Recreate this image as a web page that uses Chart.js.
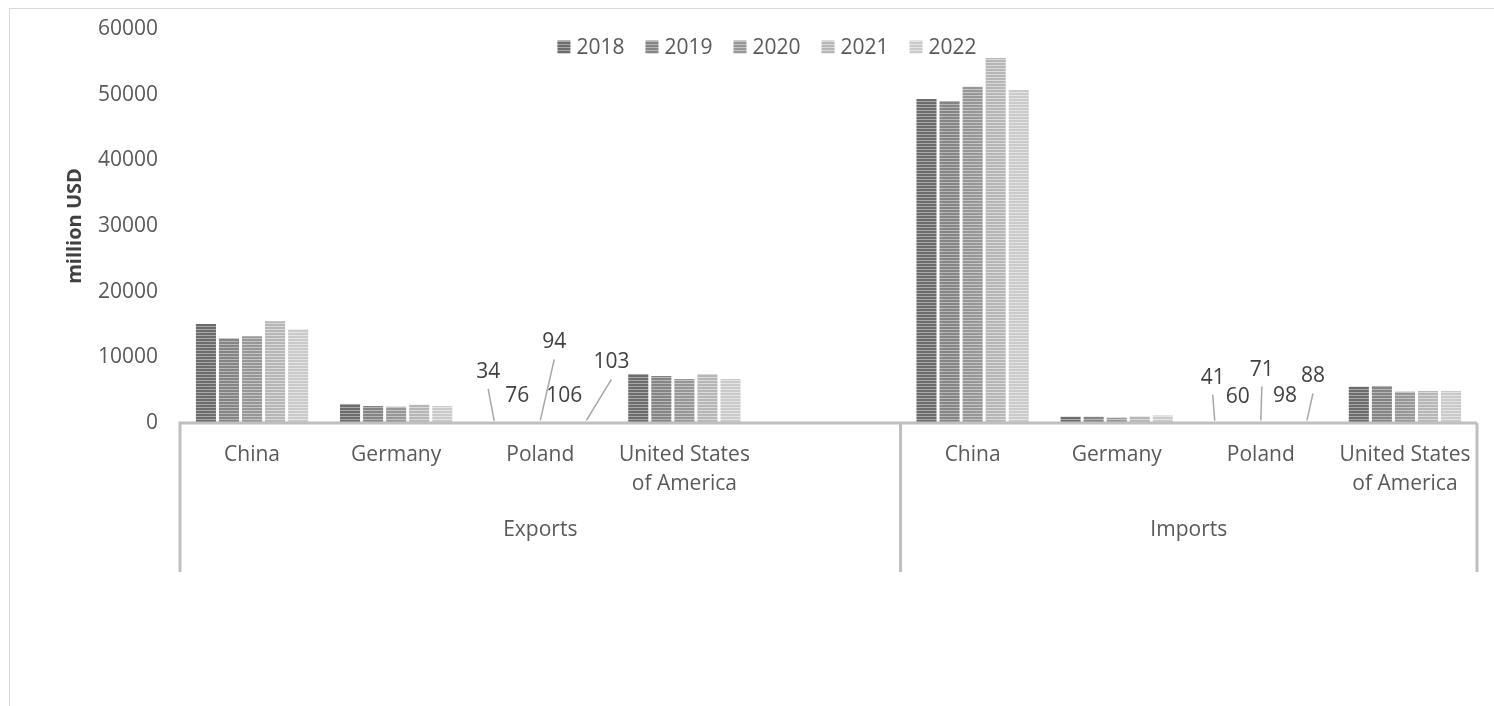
<!DOCTYPE html>
<html>
<head>
<meta charset="utf-8">
<script src="https://cdn.jsdelivr.net/npm/chart.js@4.4.1/dist/chart.umd.min.js"></script>
<style>
  html, body { margin: 0; padding: 0; background: #fff; }
  #frame { position: absolute; left: 9px; top: 8px; width: 1500px; height: 720px; border: 1px solid #d9d9d9; box-sizing: border-box; }
  #wrap { position: absolute; left: 0; top: 0; width: 1494px; height: 706px; }
</style>
</head>
<body>
<div id="frame"></div>
<div id="wrap"><canvas id="trade"></canvas></div>
<script>
// categories in two groups; the fifth export slot is left empty
const categories = [['China'], ['Germany'], ['Poland'], ['United States', 'of America'], [''],
                    ['China'], ['Germany'], ['Poland'], ['United States', 'of America']];
const groups = ['Exports', 'Imports'];
const groupSizes = [5, 4];
const years = ['2018', '2019', '2020', '2021', '2022'];

// million USD
const values2018 = [15090, 2900, 34, 7470, null, 49350, 960, 41, 5530];
const values2019 = [12910, 2590, 76, 7160, null, 49040, 960, 60, 5640];
const values2020 = [13210, 2480, 94, 6710, null, 51220, 810, 71, 4770];
const values2021 = [15500, 2790, 106, 7470, null, 55590, 1000, 98, 4880];
const values2022 = [14280, 2590, 103, 6710, null, 50720, 1150, 88, 4880];
const yTicks = [0, 10000, 20000, 30000, 40000, 50000, 60000];

const FONT = '"Open Sans", "DejaVu Sans", sans-serif';

// horizontal stripe fills, dark to light
const stripeColors = [
  ['#6c6c6c', '#a9a9a9'],
  ['#858585', '#b6b6b6'],
  ['#979797', '#c4c4c4'],
  ['#b6b6b6', '#d9d9d9'],
  ['#cacaca', '#e4e4e4']
];
function stripes(dark, light) {
  const c = document.createElement('canvas');
  c.width = 4; c.height = 3;
  const g = c.getContext('2d');
  g.fillStyle = light; g.fillRect(0, 0, 4, 3);
  g.fillStyle = dark; g.fillRect(0, 0, 4, 2);
  return g.createPattern(c, 'repeat');
}
const fills = stripeColors.map(p => stripes(p[0], p[1]));

// label nudges for the tiny Poland bars [dx, dy]; moved labels get a leader line
const labelShift = [
  [[-6, -25], [0, 0], [14, -54], [1, 0], [25, -34]],
  [[-2, -19], [0, 0], [1, -27], [1, 0], [6, -20]]
];

const series = [values2018, values2019, values2020, values2021, values2022];

const smallLabels = {
  id: 'smallLabels',
  afterDatasetsDraw(chart) {
    const ctx = chart.ctx;
    const polandIdx = categories.map((c, i) => c[0] === 'Poland' ? i : -1).filter(i => i >= 0);
    ctx.save();
    ctx.font = '21px ' + FONT;
    ctx.fillStyle = '#404040';
    ctx.textAlign = 'center';
    ctx.textBaseline = 'middle';
    polandIdx.forEach((ci, g) => {
      chart.data.datasets.forEach((ds, di) => {
        const bar = chart.getDatasetMeta(di).data[ci];
        const [dx, dy] = labelShift[g][di];
        const tx = bar.x + dx, ty = bar.y - 26 + dy;
        ctx.fillText(String(ds.data[ci]), tx, ty);
        if (dy !== 0) {
          ctx.strokeStyle = '#a6a6a6';
          ctx.lineWidth = 1.5;
          ctx.beginPath();
          ctx.moveTo(tx, ty + 17);
          ctx.lineTo(bar.x, bar.y - 2);
          ctx.stroke();
        }
      });
    });
    ctx.restore();
  }
};

const axisDecor = {
  id: 'axisDecor',
  afterDraw(chart) {
    const { ctx, chartArea: a, scales: { x } } = chart;
    const slot = (a.right - a.left) / categories.length;
    const lineBottom = a.bottom + 149;
    ctx.save();
    ctx.strokeStyle = '#bfbfbf';
    ctx.lineWidth = 3;
    ctx.beginPath();
    ctx.moveTo(a.left - 1.5, a.bottom);
    ctx.lineTo(a.right, a.bottom);
    const edges = [a.left];
    let n = 0;
    groupSizes.forEach(s => { n += s; edges.push(x.getPixelForValue(n - 1) + slot / 2); });
    edges.forEach(px => { ctx.moveTo(px, a.bottom); ctx.lineTo(px, lineBottom); });
    ctx.stroke();

    ctx.font = '21px ' + FONT;
    ctx.fillStyle = '#595959';
    ctx.textAlign = 'center';
    ctx.textBaseline = 'middle';
    groups.forEach((name, i) => {
      ctx.fillText(name, (edges[i] + edges[i + 1]) / 2, a.bottom + 107);
    });
    ctx.restore();
  }
};

const topLegend = {
  id: 'topLegend',
  afterDraw(chart) {
    const ctx = chart.ctx;
    const cx = 767, cy = 47, box = 13, gap = 6, space = 21;
    ctx.save();
    ctx.font = '21px ' + FONT;
    const widths = years.map(t => box + gap + ctx.measureText(t).width);
    const total = widths.reduce((s, w) => s + w, 0) + space * (years.length - 1);
    let px = cx - total / 2;
    ctx.textBaseline = 'middle';
    ctx.textAlign = 'left';
    years.forEach((t, i) => {
      ctx.fillStyle = fills[i];
      ctx.fillRect(px, cy - box / 2, box, box);
      ctx.fillStyle = '#595959';
      ctx.fillText(t, px + box + gap, cy + 1);
      px += widths[i] + space;
    });
    ctx.restore();
  }
};

new Chart(document.getElementById('trade'), {
  type: 'bar',
  data: {
    labels: categories,
    datasets: years.map((y, i) => ({
      label: y,
      data: series[i],
      backgroundColor: fills[i],
      borderWidth: 0,
      categoryPercentage: 0.8,
      barPercentage: 0.87
    }))
  },
  options: {
    responsive: true,
    maintainAspectRatio: false,
    animation: false,
    layout: { padding: { left: 0, top: 29, right: 17, bottom: 0 } },
    plugins: {
      legend: { display: false },
      tooltip: { enabled: false }
    },
    scales: {
      x: {
        grid: { display: false, drawTicks: false },
        border: { display: false },
        ticks: {
          color: '#595959',
          font: { family: FONT, size: 21, lineHeight: 1.35 },
          padding: 18,
          maxRotation: 0,
          autoSkip: false
        },
        afterFit(s) { s.height = 283; }
      },
      y: {
        min: 0,
        max: 60000,
        afterBuildTicks(s) { s.ticks = yTicks.map(v => ({ value: v })); },
        grid: { display: false, drawTicks: false },
        border: { display: false },
        ticks: {
          color: '#595959',
          font: { family: FONT, size: 21 },
          padding: 22,
          callback: v => String(v)
        },
        title: {
          display: true,
          text: 'million USD',
          color: '#404040',
          font: { family: FONT, size: 20, weight: 'bold' },
          padding: { top: 63, bottom: 0 }
        },
        // fixed axis width; the top label may sit above the plot edge
        afterFit(s) { s.width = 180; s.paddingTop = 0; s.paddingBottom = 0; }
      }
    }
  },
  plugins: [smallLabels, axisDecor, topLegend]
});
</script>
</body>
</html>
